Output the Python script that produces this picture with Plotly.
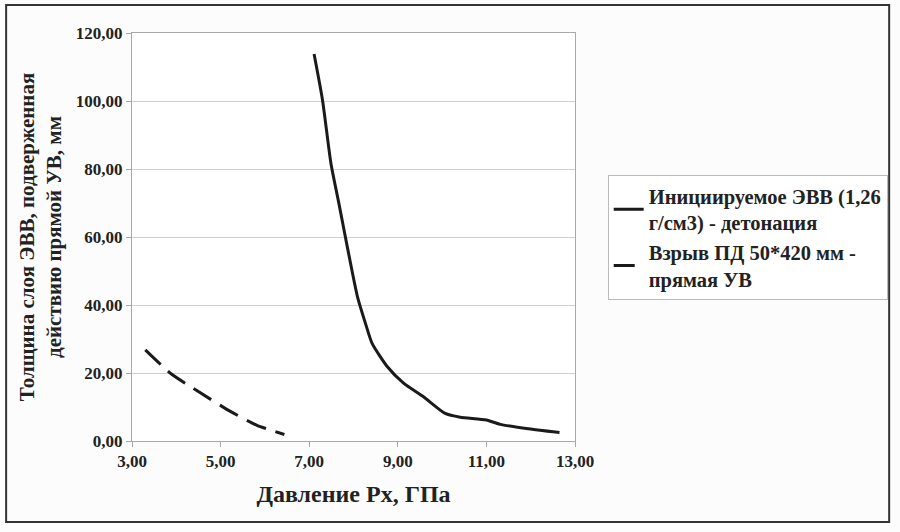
import plotly.graph_objects as go

# Solid series: initiated EVV (1.26 g/cm3) - detonation
det_x = [7.11, 7.30, 7.49, 7.67, 7.86, 8.09, 8.27, 8.42, 8.76, 9.13, 9.58, 10.07, 10.41, 11.00, 11.31, 11.90, 12.65]
det_y = [113.8, 100.3, 81.7, 69.9, 57.1, 42.4, 34.6, 28.7, 21.9, 17.0, 13.0, 8.1, 7.0, 6.2, 4.9, 3.7, 2.5]

# Dashed series: blast of charge 50*420 mm - direct shock wave
uv_x = [3.30, 3.89, 4.48, 5.22, 5.81, 6.44]
uv_y = [26.8, 19.7, 14.7, 8.7, 4.7, 1.9]

name_det = "Инициируемое ЭВВ (1,26<br>г/см3) - детонация"
name_uv = "Взрыв ПД 50*420 мм -<br>прямая УВ"

x_ticks = [3, 5, 7, 9, 11, 13]
y_ticks = [0, 20, 40, 60, 80, 100, 120]

FONT = "Liberation Serif, DejaVu Serif, Times New Roman, serif"
TXT = "#222222"

fig = go.Figure()
fig.add_trace(go.Scatter(x=det_x, y=det_y, mode="lines", name=name_det,
                         line=dict(color="#1a1a1a", width=3, shape="spline", smoothing=0.6)))
fig.add_trace(go.Scatter(x=uv_x, y=uv_y, mode="lines", name=name_uv,
                         line=dict(color="#1a1a1a", width=3, dash="21px,10px", shape="spline", smoothing=0.6)))

L, R, T, B = 132, 321, 33, 91
pw = 900 - L - R
ph = 532 - T - B

fig.update_layout(
    width=900, height=532,
    margin=dict(l=L, r=R, t=T, b=B),
    paper_bgcolor="#fcfcfc", plot_bgcolor="#ffffff",
    separators=", ",
    font=dict(family=FONT, color=TXT, size=14, weight="bold"),
    showlegend=True,
    legend=dict(x=(612 - L) / pw, y=(441 - 175) / ph, xanchor="left", yanchor="top",
                bordercolor="#bbbbbb", borderwidth=1, bgcolor="#ffffff",
                font=dict(family=FONT, size=20.5, color=TXT, weight="bold"), tracegroupgap=4),
    xaxis=dict(range=[3, 13], tickvals=x_ticks, tickformat=".2f",
               showgrid=False, zeroline=False,
               showline=True, linecolor="#a8a8a8", linewidth=1, mirror=True,
               ticks="outside", ticklen=5, tickcolor="#a8a8a8",
               tickfont=dict(family=FONT, size=17, color=TXT, weight="bold"),
               title=dict(text="Давление Рх, ГПа", font=dict(family=FONT, size=24, color=TXT, weight="bold"), standoff=14)),
    yaxis=dict(range=[0, 120], tickvals=y_ticks, tickformat=".2f",
               showgrid=True, gridcolor="#d0d0d0", gridwidth=1, zeroline=False,
               showline=True, linecolor="#a8a8a8", linewidth=1, mirror=True,
               ticks="outside", ticklen=5, tickcolor="#a8a8a8",
               tickfont=dict(family=FONT, size=17, color=TXT, weight="bold"),
               title=dict(text="Толщина слоя ЭВВ, подверженная<br>действию прямой УВ, мм",
                          font=dict(family=FONT, size=21, color=TXT, weight="bold"), standoff=8)),
)

fig.add_shape(type="rect", xref="paper", yref="paper",
              x0=(5 - L) / pw, x1=(896 - L) / pw, y0=(441 - 522) / ph, y1=(441 - 5) / ph,
              line=dict(color="#333333", width=2), fillcolor="rgba(0,0,0,0)", layer="below")

fig.write_html("out.html", config={"displayModeBar": False},
               post_script="document.body.style.margin='0';document.body.style.padding='0';")
